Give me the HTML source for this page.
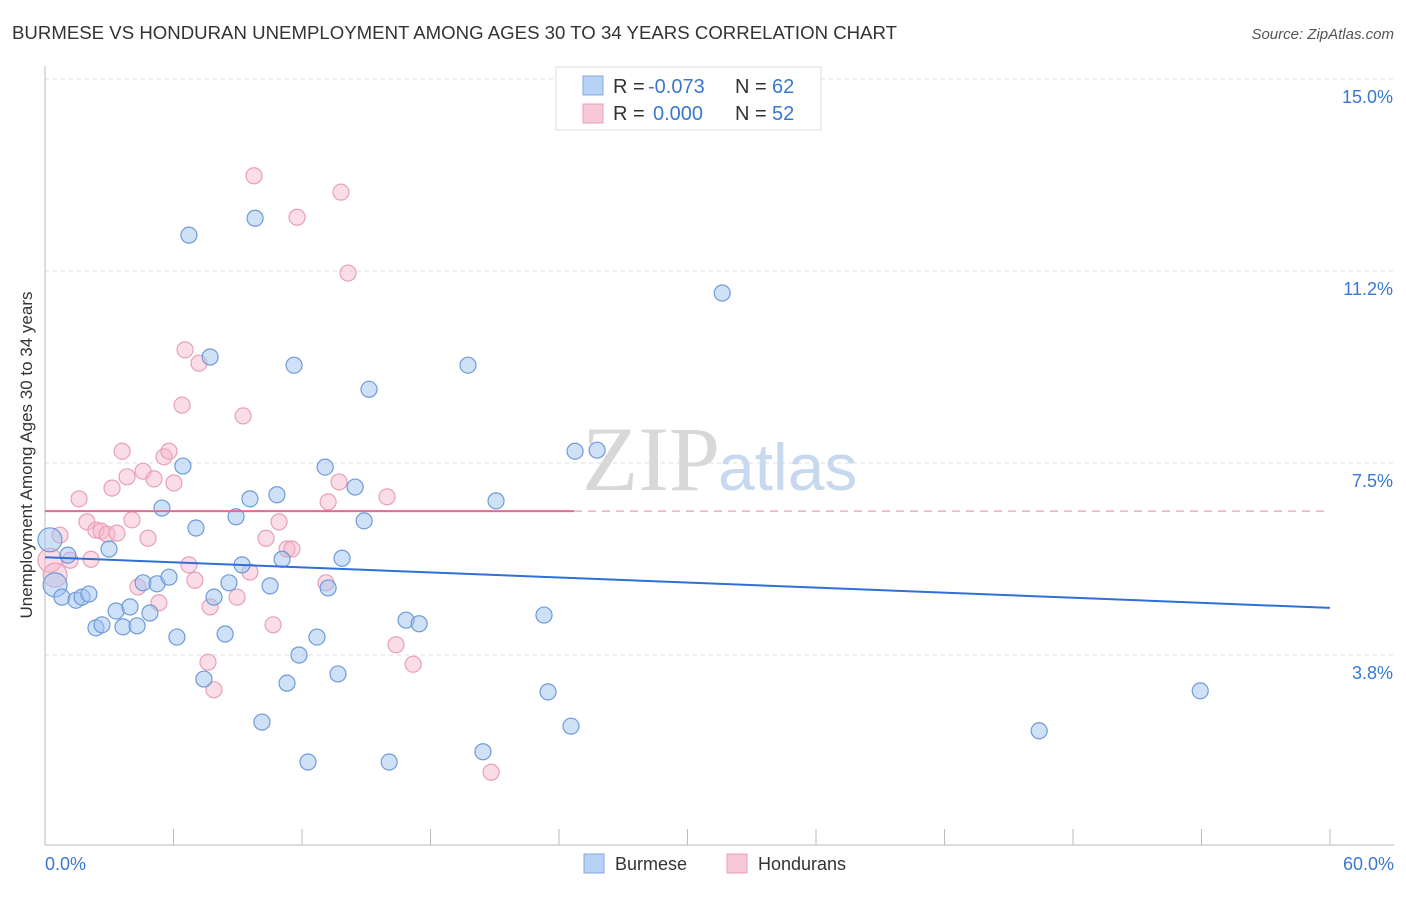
<!DOCTYPE html>
<html><head><meta charset="utf-8"><style>
body{margin:0;background:#fff;font-family:"Liberation Sans",sans-serif;}
</style></head><body>
<svg width="1406" height="892" xmlns="http://www.w3.org/2000/svg">
<text x="12" y="39" font-size="18.6" fill="#333" textLength="885">BURMESE VS HONDURAN UNEMPLOYMENT AMONG AGES 30 TO 34 YEARS CORRELATION CHART</text>
<text x="1394" y="39" font-size="15" fill="#555" font-style="italic" text-anchor="end">Source: ZipAtlas.com</text>
<g id="grid"></g>
<text x="720" y="490" font-size="92" fill="#d8d8d8" text-anchor="end" font-family="Liberation Serif">ZIP</text>
<text x="718" y="490" font-size="66" fill="#c8d8ee">atlas</text>
<g id="marks"></g>
<text x="32" y="455" font-size="17" fill="#333" text-anchor="middle" transform="rotate(-90 32 455)">Unemployment Among Ages 30 to 34 years</text>
<text x="45" y="870" font-size="18" fill="#3a78d0">0.0%</text>
<text x="1394" y="870" font-size="18" fill="#3a78d0" text-anchor="end">60.0%</text>
<g>
<rect x="556" y="67" width="265" height="63" fill="#fff" stroke="#ddd"/>
<rect x="583" y="76" width="20" height="19" fill="#b8d2f5" stroke="#7fa8e0"/>
<rect x="583" y="104" width="20" height="19" fill="#f9c8d6" stroke="#e8a0b8"/>
<text x="613" y="93" font-size="20" fill="#333">R = <tspan fill="#3a78d0" x="648">-0.073</tspan><tspan x="735">N = </tspan><tspan fill="#3a78d0" x="772">62</tspan></text>
<text x="613" y="120" font-size="20" fill="#333">R = <tspan fill="#3a78d0" x="653">0.000</tspan><tspan x="735">N = </tspan><tspan fill="#3a78d0" x="772">52</tspan></text>
</g>
<g>
<rect x="584" y="854" width="20" height="19" fill="#b8d2f5" stroke="#7fa8e0"/>
<text x="615" y="870" font-size="18" fill="#333">Burmese</text>
<rect x="727" y="854" width="20" height="19" fill="#f9c8d6" stroke="#e8a0b8"/>
<text x="758" y="870" font-size="18" fill="#333">Hondurans</text>
</g>
</svg>
<script>
const yTicks=[15.0,11.25,7.5,3.75];
const yTickLabels=["15.0%","11.2%","7.5%","3.8%"];
const xTicks=[0,6,12,18,24,30,36,42,48,54,60];
const burmeseX=[0.23,0.47,0.79,1.07,1.45,1.73,2.05,2.38,2.66,2.99,3.32,3.64,3.97,4.30,4.58,4.90,5.23,5.46,5.79,6.16,6.44,6.72,7.05,7.42,7.71,7.89,8.41,8.59,8.92,9.20,9.57,9.81,10.13,10.51,10.83,11.07,11.30,11.63,11.86,12.28,12.70,13.08,13.22,13.68,13.87,14.48,14.90,15.13,16.07,16.86,17.47,19.75,20.45,21.06,23.30,23.49,24.56,24.75,25.78,31.62,46.42,53.94];
const burmeseY=[6.0,5.12,4.88,5.70,4.82,4.88,4.94,4.28,4.34,5.82,4.61,4.30,4.69,4.32,5.16,4.57,5.14,6.62,5.27,4.10,7.44,11.95,6.23,3.28,9.57,4.88,4.16,5.16,6.45,5.51,6.80,12.28,2.44,5.10,6.88,5.62,3.20,9.41,3.75,1.66,4.10,7.42,5.06,3.38,5.64,7.03,6.37,8.94,1.66,4.43,4.36,9.41,1.86,6.76,4.53,3.03,2.36,7.73,7.75,10.82,2.27,3.05];
const hondX=[0.23,0.47,0.70,1.17,1.59,1.96,2.15,2.38,2.62,2.90,3.13,3.36,3.60,3.83,4.06,4.34,4.58,4.81,5.09,5.32,5.56,5.79,6.02,6.40,6.54,6.72,7.00,7.19,7.61,7.71,7.89,8.97,9.25,9.57,9.76,10.32,10.65,10.93,11.30,11.53,11.77,13.12,13.22,13.73,13.82,14.15,15.97,16.39,17.19,20.83];
const hondY=[5.60,5.31,6.09,5.60,6.80,6.35,5.62,6.19,6.17,6.11,7.01,6.13,7.73,7.23,6.39,5.08,7.34,6.03,7.19,4.77,7.62,7.73,7.11,8.63,9.71,5.51,5.21,9.45,3.61,4.69,3.07,4.88,8.42,5.37,13.11,6.03,4.34,6.35,5.82,5.82,12.30,5.16,6.74,7.13,12.79,11.21,6.84,3.95,3.57,1.46];
const burmeseTrend=[5.66,4.67];
const hondTrend=[6.56,6.56];
const NS="http://www.w3.org/2000/svg";
const sx=v=>45+v/60*1285;
const sy=v=>847-v*51.2;
function mk(t,a,p){const e=document.createElementNS(NS,t);for(const k in a)e.setAttribute(k,a[k]);p.appendChild(e);return e;}
const grid=document.getElementById('grid'),marks=document.getElementById('marks');
yTicks.forEach((t,i)=>{
 const l=mk('line',{x1:45,x2:1394,y1:sy(t),y2:sy(t),stroke:'#ddd','stroke-dasharray':'4 4'},grid);
 
 
 const tx=mk('text',{x:1393,y:sy(t)+24,'font-size':18,fill:'#3a78d0','text-anchor':'end'},grid);
 tx.textContent=yTickLabels[i];
 
 
});
const ax=mk('line',{x1:45,x2:1394,y1:845,y2:845,stroke:'#bbb'},grid);


const ay=mk('line',{x1:45,x2:45,y1:66,y2:845,stroke:'#bbb'},grid);


xTicks.forEach(t=>{
 const l=mk('line',{x1:sx(t),x2:sx(t),y1:829,y2:845,stroke:'#bbb'},grid);
 
 
});
function pts(X,Y,fill,stroke,name){
 X.forEach((x,i)=>{
  const r=i<2?12:8;
  const c=mk('circle',{cx:sx(x),cy:sy(Y[i]),r:r,fill:fill,stroke:stroke,'stroke-width':1.2},marks);
  
  
 });
}
pts(hondX,hondY,'rgba(246,180,202,0.45)','#e8a0b8','honduran-point');
pts(burmeseX,burmeseY,'rgba(160,196,240,0.5)','#6f9ada','burmese-point');
const bt=mk('line',{x1:sx(0),x2:sx(60),y1:sy(burmeseTrend[0]),y2:sy(burmeseTrend[1]),stroke:'#2f6fd6','stroke-width':2},marks);


const ht=mk('line',{x1:sx(0),x2:sx(24.7),y1:sy(hondTrend[0]),y2:sy(hondTrend[0]),stroke:'#e46a92','stroke-width':2},marks);


const hd=mk('line',{x1:sx(24.7),x2:sx(60),y1:sy(hondTrend[0]),y2:sy(hondTrend[1]),stroke:'#e8a0b8','stroke-width':1.3,'stroke-dasharray':'8 6'},marks);


</script>
</body></html>
